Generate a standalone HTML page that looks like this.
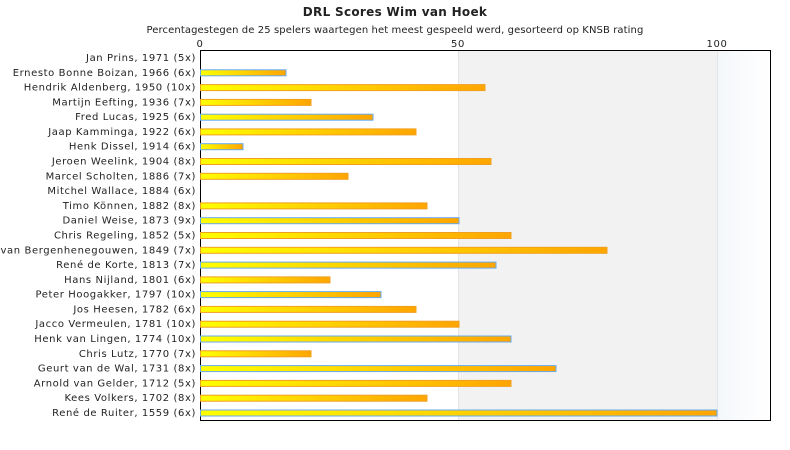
<!DOCTYPE html>
<html><head><meta charset="utf-8"><style>
html,body{margin:0;padding:0;background:#fff;width:790px;height:450px;overflow:hidden}
text{font-family:"DejaVu Sans","Liberation Sans",sans-serif;font-size:10px;fill:#222;letter-spacing:0.6px}
</style></head><body>
<svg width="790" height="450" xmlns="http://www.w3.org/2000/svg">
<defs>
<linearGradient id="g" x1="0" x2="1" y1="0" y2="0"><stop offset="0" stop-color="#ffff00"/><stop offset="1" stop-color="#ffa500"/></linearGradient>
<linearGradient id="bg" x1="0" x2="1"><stop offset="0" stop-color="#f4f7fa"/><stop offset="1" stop-color="#ffffff"/></linearGradient>
</defs>
<text x="395" y="16" text-anchor="middle" style="font-size:12px;font-weight:bold;letter-spacing:0.3px">DRL Scores Wim van Hoek</text>
<text x="395" y="33" text-anchor="middle" style="letter-spacing:0.1px">Percentagestegen de 25 spelers waartegen het meest gespeeld werd, gesorteerd op KNSB rating</text>
<text x="200" y="47" text-anchor="middle">0</text>
<text x="458" y="47" text-anchor="middle">50</text>
<text x="717" y="47" text-anchor="middle">100</text>
<rect x="458" y="50" width="259" height="370" fill="#f2f2f2"/>
<rect x="717" y="50" width="53" height="370" fill="url(#bg)"/>
<line x1="458.5" y1="50" x2="458.5" y2="420" stroke="#e4e4e4"/>
<line x1="717.5" y1="50" x2="717.5" y2="420" stroke="#e4e4e4"/>
<rect x="200.5" y="50.5" width="570" height="370" fill="none" stroke="#000"/>
<g text-anchor="end" id="labels"></g>
<g id="bars"></g>
</svg>
<script>
var d=[["Jan Prins, 1971 (5x)",0,0],["Ernesto Bonne Boizan, 1966 (6x)",286,1],["Hendrik Aldenberg, 1950 (10x)",485,0],["Martijn Eefting, 1936 (7x)",311,0],["Fred Lucas, 1925 (6x)",373,1],["Jaap Kamminga, 1922 (6x)",416,0],["Henk Dissel, 1914 (6x)",243,1],["Jeroen Weelink, 1904 (8x)",491,0],["Marcel Scholten, 1886 (7x)",348,0],["Mitchel Wallace, 1884 (6x)",0,0],["Timo Können, 1882 (8x)",427,0],["Daniel Weise, 1873 (9x)",459,1],["Chris Regeling, 1852 (5x)",511,0],["Jan van Bergenhenegouwen, 1849 (7x)",607,0],["René de Korte, 1813 (7x)",496,1],["Hans Nijland, 1801 (6x)",330,0],["Peter Hoogakker, 1797 (10x)",381,1],["Jos Heesen, 1782 (6x)",416,0],["Jacco Vermeulen, 1781 (10x)",459,0],["Henk van Lingen, 1774 (10x)",511,1],["Chris Lutz, 1770 (7x)",311,0],["Geurt van de Wal, 1731 (8x)",556,1],["Arnold van Gelder, 1712 (5x)",511,0],["Kees Volkers, 1702 (8x)",427,0],["René de Ruiter, 1559 (6x)",717,1]];
var ns="http://www.w3.org/2000/svg",L=document.getElementById("labels"),B=document.getElementById("bars");
d.forEach(function(r,i){var c=57.5+14.79*i;
var t=document.createElementNS(ns,"text");t.setAttribute("x",196);t.setAttribute("y",c+3.5);t.textContent=r[0];L.appendChild(t);
if(r[1]>0){var b=document.createElementNS(ns,"rect");b.setAttribute("x",200.5);b.setAttribute("y",(c-2.5).toFixed(1));b.setAttribute("width",r[1]-200.5);b.setAttribute("height",6);b.setAttribute("fill","url(#g)");b.setAttribute("stroke",r[2]?"#66aaee":"#f0a020");B.appendChild(b);}});
</script>
</body></html>
